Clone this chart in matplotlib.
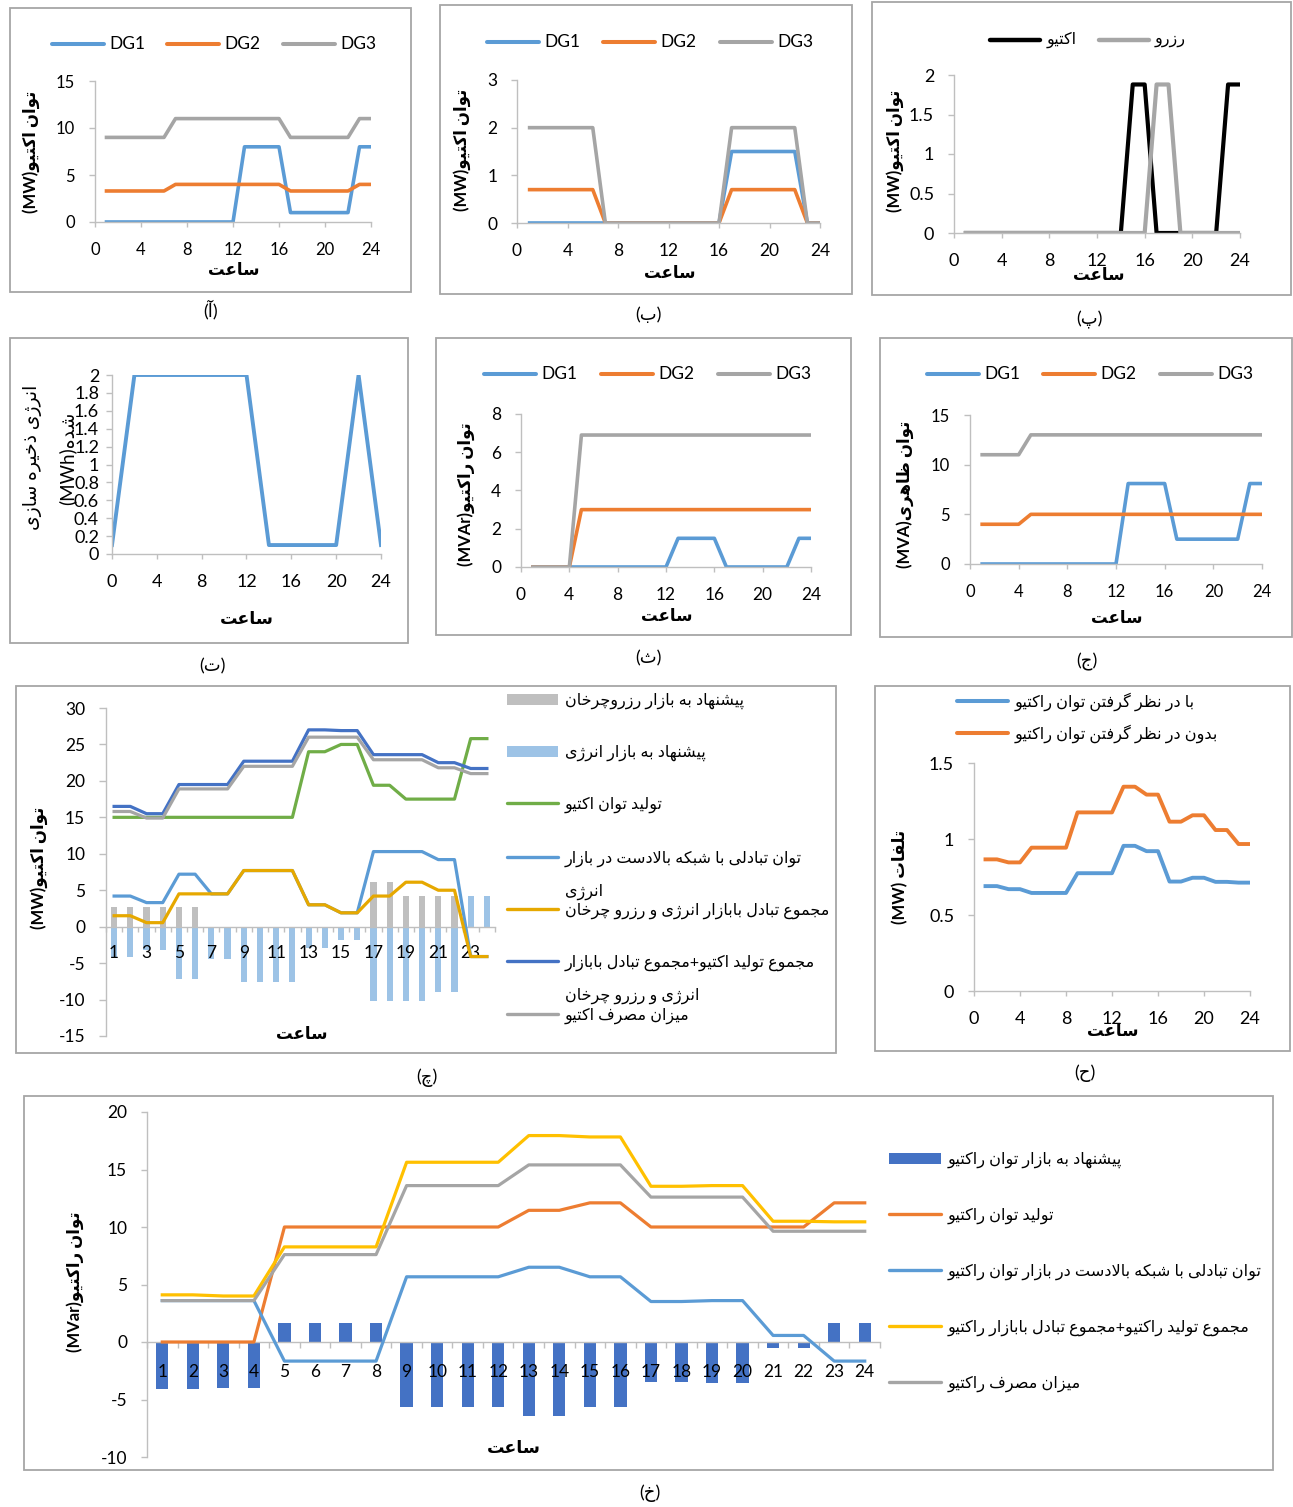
import re
import matplotlib
matplotlib.use("Agg")
import matplotlib.pyplot as plt
from matplotlib.lines import Line2D
from matplotlib.patches import Rectangle

plt.rcParams['font.family'] = ['Lato', 'DejaVu Sans']
plt.rcParams['axes.unicode_minus'] = False

W, H = 1293, 1507

# ---------------- data ----------------
hours = list(range(1, 25))
dg_names = ['DG1', 'DG2', 'DG3']

# (a) active power of DGs, MW
a_dg1 = [0, 0, 0, 0, 0, 0, 0, 0, 0, 0, 0, 0, 8, 8, 8, 8, 1, 1, 1, 1, 1, 1, 8, 8]
a_dg2 = [3.3, 3.3, 3.3, 3.3, 3.3, 3.3, 4, 4, 4, 4, 4, 4, 4, 4, 4, 4, 3.3, 3.3, 3.3, 3.3, 3.3, 3.3, 4, 4]
a_dg3 = [9, 9, 9, 9, 9, 9, 11, 11, 11, 11, 11, 11, 11, 11, 11, 11, 9, 9, 9, 9, 9, 9, 11, 11]

# (b) reserve of DGs, MW
b_dg1 = [0, 0, 0, 0, 0, 0, 0, 0, 0, 0, 0, 0, 0, 0, 0, 0, 1.5, 1.5, 1.5, 1.5, 1.5, 1.5, 0, 0]
b_dg2 = [0.7, 0.7, 0.7, 0.7, 0.7, 0.7, 0, 0, 0, 0, 0, 0, 0, 0, 0, 0, 0.7, 0.7, 0.7, 0.7, 0.7, 0.7, 0, 0]
b_dg3 = [2, 2, 2, 2, 2, 2, 0, 0, 0, 0, 0, 0, 0, 0, 0, 0, 2, 2, 2, 2, 2, 2, 0, 0]

# (p) storage active / reserve, MW
p_names = ['اکتیو', 'رزرو']
p_active = [0, 0, 0, 0, 0, 0, 0, 0, 0, 0, 0, 0, 0, 0, 1.88, 1.88, 0, 0, 0, 0, 0, 0, 1.88, 1.88]
p_reserve = [0, 0, 0, 0, 0, 0, 0, 0, 0, 0, 0, 0, 0, 0, 0, 0, 1.88, 1.88, 0, 0, 0, 0, 0, 0]

# (t) stored energy, MWh
t_hours = [0, 2, 4, 6, 8, 10, 12, 14, 16, 18, 20, 22, 24]
t_energy = [0.1, 2, 2, 2, 2, 2, 2, 0.1, 0.1, 0.1, 0.1, 2, 0.1]

# (s) reactive power of DGs, MVAr
s_dg1 = [0, 0, 0, 0, 0, 0, 0, 0, 0, 0, 0, 0, 1.5, 1.5, 1.5, 1.5, 0, 0, 0, 0, 0, 0, 1.5, 1.5]
s_dg2 = [0, 0, 0, 0, 3, 3, 3, 3, 3, 3, 3, 3, 3, 3, 3, 3, 3, 3, 3, 3, 3, 3, 3, 3]
s_dg3 = [0, 0, 0, 0, 6.9, 6.9, 6.9, 6.9, 6.9, 6.9, 6.9, 6.9, 6.9, 6.9, 6.9, 6.9, 6.9, 6.9, 6.9, 6.9, 6.9, 6.9, 6.9, 6.9]

# (j) apparent power of DGs, MVA
j_dg1 = [0, 0, 0, 0, 0, 0, 0, 0, 0, 0, 0, 0, 8.1, 8.1, 8.1, 8.1, 2.5, 2.5, 2.5, 2.5, 2.5, 2.5, 8.1, 8.1]
j_dg2 = [4, 4, 4, 4, 5, 5, 5, 5, 5, 5, 5, 5, 5, 5, 5, 5, 5, 5, 5, 5, 5, 5, 5, 5]
j_dg3 = [11, 11, 11, 11, 13, 13, 13, 13, 13, 13, 13, 13, 13, 13, 13, 13, 13, 13, 13, 13, 13, 13, 13, 13]

# (ch) active power balance, MW
ch_names = ['پیشنهاد به بازار رزروچرخان', 'پیشنهاد به بازار انرژی', 'تولید توان اکتیو',
            'توان تبادلی با شبکه بالادست در بازار\nانرژی',
            'مجموع تبادل بابازار انرژی و رزرو چرخان',
            'مجموع تولید اکتیو+مجموع تبادل بابازار\nانرژی و رزرو چرخان',
            'میزان مصرف اکتیو']
ch_reserve = [2.7, 2.7, 2.7, 2.7, 2.7, 2.7, 0, 0, 0, 0, 0, 0, 0, 0, 0, 0, 6.1, 6.1, 4.2, 4.2, 4.2, 4.2, 0, 0]
ch_energy = [-4.2, -4.2, -3.2, -3.2, -7.2, -7.2, -4.5, -4.5, -7.6, -7.6, -7.6, -7.6,
             -2.9, -2.9, -1.85, -1.85, -10.25, -10.25, -10.25, -10.25, -9, -9, 4.2, 4.2]
ch_gen = [15, 15, 15, 15, 15, 15, 15, 15, 15, 15, 15, 15, 24, 24, 25, 25, 19.4, 19.4, 17.5, 17.5, 17.5, 17.5, 25.8, 25.8]
ch_exch = [4.2, 4.2, 3.3, 3.3, 7.2, 7.2, 4.5, 4.5, 7.7, 7.7, 7.7, 7.7, 3, 3, 1.9, 1.9,
           10.3, 10.3, 10.3, 10.3, 9.2, 9.2, -4.1, -4.1]
ch_market = [1.5, 1.5, 0.55, 0.55, 4.5, 4.5, 4.5, 4.5, 7.7, 7.7, 7.7, 7.7, 3, 3, 1.9, 1.9,
             4.2, 4.2, 6.1, 6.1, 5, 5, -4.1, -4.1]
ch_total = [16.5, 16.5, 15.5, 15.5, 19.5, 19.5, 19.5, 19.5, 22.7, 22.7, 22.7, 22.7,
            27, 27, 26.9, 26.9, 23.6, 23.6, 23.6, 23.6, 22.5, 22.5, 21.7, 21.7]
ch_load = [15.8, 15.8, 14.9, 14.9, 18.9, 18.9, 18.9, 18.9, 22, 22, 22, 22,
           26, 26, 26, 26, 22.9, 22.9, 22.9, 22.9, 21.8, 21.8, 21, 21]

# (h) losses, MW
h_names = ['با در نظر گرفتن توان راکتیو', 'بدون در نظر گرفتن توان راکتیو']
h_with = [0.69, 0.69, 0.67, 0.67, 0.645, 0.645, 0.645, 0.645, 0.775, 0.775, 0.775, 0.775,
          0.955, 0.955, 0.92, 0.92, 0.72, 0.72, 0.745, 0.745, 0.718, 0.718, 0.713, 0.713]
h_without = [0.866, 0.866, 0.846, 0.846, 0.943, 0.943, 0.943, 0.943, 1.175, 1.175, 1.175, 1.175,
             1.344, 1.344, 1.292, 1.292, 1.114, 1.114, 1.156, 1.156, 1.059, 1.059, 0.967, 0.967]

# (kh) reactive power balance, MVar
kh_names = ['پیشنهاد به بازار توان راکتیو', 'تولید توان راکتیو',
            'توان تبادلی با شبکه بالادست در بازار توان راکتیو',
            'مجموع تولید راکتیو+مجموع تبادل بابازار راکتیو', 'میزان مصرف راکتیو']
kh_offer = [-4.06, -4.06, -3.98, -3.98, 1.67, 1.67, 1.67, 1.67, -5.63, -5.63, -5.63, -5.63,
            -6.44, -6.44, -5.65, -5.65, -3.5, -3.5, -3.6, -3.6, -0.53, -0.53, 1.67, 1.67]
kh_gen = [0, 0, 0, 0, 10, 10, 10, 10, 10, 10, 10, 10, 11.45, 11.45, 12.1, 12.1, 10, 10, 10, 10, 10, 10, 12.1, 12.1]
kh_exch = [3.6, 3.6, 3.6, 3.6, -1.66, -1.66, -1.66, -1.66, 5.67, 5.67, 5.67, 5.67,
           6.5, 6.5, 5.67, 5.67, 3.52, 3.52, 3.6, 3.6, 0.57, 0.57, -1.66, -1.66]
kh_total = [4.1, 4.1, 4.0, 4.0, 8.27, 8.27, 8.27, 8.27, 15.63, 15.63, 15.63, 15.63,
            17.95, 17.95, 17.83, 17.83, 13.54, 13.54, 13.6, 13.6, 10.5, 10.5, 10.45, 10.45]
kh_load = [3.6, 3.6, 3.6, 3.6, 7.6, 7.6, 7.6, 7.6, 13.6, 13.6, 13.6, 13.6,
           15.4, 15.4, 15.4, 15.4, 12.6, 12.6, 12.6, 12.6, 9.63, 9.63, 9.63, 9.63]

captions = ['(آ)', '(ب)', '(پ)', '(ت)', '(ث)', '(ج)', '(چ)', '(ح)', '(خ)']
x_title = 'ساعت'

# ---------------- persian shaping ----------------
# matplotlib does no arabic shaping / bidi, so map letters to presentation forms
FORMS = {
    'ا': (0xFE8D, 0xFE8E), 'آ': (0xFE81, 0xFE82), 'د': (0xFEA9, 0xFEAA), 'ذ': (0xFEAB, 0xFEAC),
    'ر': (0xFEAD, 0xFEAE), 'ز': (0xFEAF, 0xFEB0), 'ژ': (0xFB8A, 0xFB8B), 'و': (0xFEED, 0xFEEE),
    'ب': (0xFE8F, 0xFE90, 0xFE91, 0xFE92), 'پ': (0xFB56, 0xFB57, 0xFB58, 0xFB59),
    'ت': (0xFE95, 0xFE96, 0xFE97, 0xFE98), 'ث': (0xFE99, 0xFE9A, 0xFE9B, 0xFE9C),
    'ج': (0xFE9D, 0xFE9E, 0xFE9F, 0xFEA0), 'چ': (0xFB7A, 0xFB7B, 0xFB7C, 0xFB7D),
    'ح': (0xFEA1, 0xFEA2, 0xFEA3, 0xFEA4), 'خ': (0xFEA5, 0xFEA6, 0xFEA7, 0xFEA8),
    'س': (0xFEB1, 0xFEB2, 0xFEB3, 0xFEB4), 'ش': (0xFEB5, 0xFEB6, 0xFEB7, 0xFEB8),
    'ص': (0xFEB9, 0xFEBA, 0xFEBB, 0xFEBC), 'ظ': (0xFEC5, 0xFEC6, 0xFEC7, 0xFEC8),
    'ع': (0xFEC9, 0xFECA, 0xFECB, 0xFECC), 'ف': (0xFED1, 0xFED2, 0xFED3, 0xFED4),
    'ک': (0xFB8E, 0xFB8F, 0xFB90, 0xFB91), 'گ': (0xFB92, 0xFB93, 0xFB94, 0xFB95),
    'ل': (0xFEDD, 0xFEDE, 0xFEDF, 0xFEE0), 'م': (0xFEE1, 0xFEE2, 0xFEE3, 0xFEE4),
    'ن': (0xFEE5, 0xFEE6, 0xFEE7, 0xFEE8), 'ه': (0xFEE9, 0xFEEA, 0xFEEB, 0xFEEC),
    'ی': (0xFBFC, 0xFBFD, 0xFBFE, 0xFBFF),
}
MIRROR = {'(': ')', ')': '('}


def shape(s):
    out = []
    i = 0
    while i < len(s):
        c = s[i]
        if c not in FORMS:
            out.append(c)
            i += 1
            continue
        prev = s[i - 1] if i > 0 else ''
        nxt = s[i + 1] if i + 1 < len(s) else ''
        jp = prev in FORMS and len(FORMS[prev]) == 4
        if c == 'ل' and nxt == 'ا':
            out.append(chr(0xFEFC if jp else 0xFEFB))
            i += 2
            continue
        f = FORMS[c]
        jn = len(f) == 4 and nxt in FORMS
        if jp and jn:
            out.append(chr(f[3]))
        elif jp:
            out.append(chr(f[1]))
        elif jn:
            out.append(chr(f[2]))
        else:
            out.append(chr(f[0]))
        i += 1
    return ''.join(out)


def fa(s):
    lines = []
    for line in s.split('\n'):
        toks = re.findall(r'[A-Za-z0-9.]+|.', shape(line))
        lines.append(''.join(MIRROR.get(t, t) for t in reversed(toks)))
    return '\n'.join(lines)


# ---------------- helpers (pixel positions, y from top) ----------------
BLUE, ORANGE, GREY = '#5B9BD5', '#ED7D31', '#A5A5A5'
AXC, FRAME = '#BFBFBF', '#A6A6A6'
YL = 12      # axis title size
LEG = 11.6   # persian legend size

fig = plt.figure(figsize=(W / 100, H / 100), dpi=100)


def px_axes(x0, x1, y0, y1):
    return fig.add_axes([x0 / W, 1 - y1 / H, (x1 - x0) / W, (y1 - y0) / H])


def frame(x0, y0, x1, y1):
    fig.add_artist(Rectangle((x0 / W, 1 - y1 / H), (x1 - x0) / W, (y1 - y0) / H,
                             transform=fig.transFigure, fill=False, ec=FRAME, lw=1.3))


def ftext(x, y, s, **kw):
    kw.setdefault('ha', 'center')
    kw.setdefault('va', 'center')
    fig.text(x / W, 1 - y / H, s, **kw)


def key_line(x0, x1, y, color, lw=2.8):
    fig.add_artist(Line2D([x0 / W, x1 / W], [1 - y / H, 1 - y / H], color=color, lw=lw,
                          solid_capstyle='round', transform=fig.transFigure))


def key_box(x0, x1, y, color, h=11):
    fig.add_artist(Rectangle((x0 / W, 1 - (y + h / 2) / H), (x1 - x0) / W, h / H,
                             transform=fig.transFigure, fc=color, ec='none'))


def style(ax, fs, ypad=10, xpad=11):
    for s in ('top', 'right'):
        ax.spines[s].set_visible(False)
    for s in ('left', 'bottom'):
        ax.spines[s].set_color(AXC)
        ax.spines[s].set_linewidth(1.0)
    ax.tick_params(axis='y', length=4.3, width=1, color=AXC, labelsize=fs, pad=ypad)
    ax.tick_params(axis='x', length=3.6, width=1, color=AXC, labelsize=fs, pad=xpad)
    ax.patch.set_alpha(0)


def dg_legend(y, starts, colors, names, fs=12.5):
    for x0, c, n in zip(starts, colors, names):
        key_line(x0, x0 + 52, y, c, lw=2.9)
        ftext(x0 + 57, y, n, ha='left', fontsize=fs)


LW = 2.6
dg_colors = [BLUE, ORANGE, GREY]

# ---------------- (a) ----------------
frame(10, 8, 411, 292)
ax = px_axes(95, 371, 81, 222)
for v, c in zip([a_dg1, a_dg2, a_dg3], dg_colors):
    ax.plot(hours, v, color=c, lw=LW, solid_joinstyle='round')
ax.set_xlim(0, 24)
ax.set_ylim(0, 15)
ax.set_xticks(range(0, 25, 4))
ax.set_yticks([0, 5, 10, 15])
style(ax, 12)
dg_legend(44, [52, 167, 283], dg_colors, dg_names)
ftext(31, 152, fa('توان اکتیو(MW)'), rotation=90, fontsize=YL, fontweight='bold')
ftext(234, 270, fa(x_title), fontsize=12, fontweight='bold')
ftext(211, 310, fa(captions[0]), fontsize=13)

# ---------------- (b) ----------------
frame(440, 5, 852, 294)
ax = px_axes(517, 820, 80, 223)
for v, c in zip([b_dg1, b_dg2, b_dg3], dg_colors):
    ax.plot(hours, v, color=c, lw=LW, solid_joinstyle='round')
ax.set_xlim(0, 24)
ax.set_ylim(0, 3)
ax.set_xticks(range(0, 25, 4))
ax.set_yticks([0, 1, 2, 3])
style(ax, 12.5)
dg_legend(42, [487, 603, 720], dg_colors, dg_names)
ftext(462, 150, fa('توان اکتیو(MW)'), rotation=90, fontsize=YL, fontweight='bold')
ftext(670, 273, fa(x_title), fontsize=12, fontweight='bold')
ftext(648, 315, fa(captions[1]), fontsize=13)

# ---------------- (p) ----------------
frame(872, 2, 1291, 295)
ax = px_axes(954, 1240, 75, 233)
ax.plot(hours, p_active, color='black', lw=3.0, solid_joinstyle='round')
ax.plot(hours, p_reserve, color='#A6A6A6', lw=3.0, solid_joinstyle='round')
ax.set_xlim(0, 24)
ax.set_ylim(0, 2)
ax.set_xticks(range(0, 25, 4))
ax.set_yticks([0, 0.5, 1, 1.5, 2], ['0', '0.5', '1', '1.5', '2'])
style(ax, 13)
key_line(990, 1040, 40, 'black', lw=3.2)
ftext(1047, 40, fa(p_names[0]), ha='left', fontsize=11.5)
key_line(1099, 1149, 40, '#A6A6A6', lw=3.2)
ftext(1155, 40, fa(p_names[1]), ha='left', fontsize=11.5)
ftext(895, 151, fa('توان اکتیو(MW)'), rotation=90, fontsize=YL, fontweight='bold')
ftext(1099, 275, fa(x_title), fontsize=12, fontweight='bold')
ftext(1089, 320, fa(captions[2]), fontsize=13)

# ---------------- (t) ----------------
frame(10, 338, 408, 643)
ax = px_axes(112, 381, 375, 554)
ax.plot(t_hours, t_energy, color=BLUE, lw=2.8, solid_joinstyle='round')
ax.set_xlim(0, 24)
ax.set_ylim(0, 2)
ax.set_xticks(range(0, 25, 4))
tt = [0, 0.2, 0.4, 0.6, 0.8, 1, 1.2, 1.4, 1.6, 1.8, 2]
ax.set_yticks(tt, ['0', '0.2', '0.4', '0.6', '0.8', '1', '1.2', '1.4', '1.6', '1.8', '2'])
style(ax, 13, ypad=5)
ftext(33, 457, fa('انرژی ذخیره سازی'), rotation=90, fontsize=13.5)
ftext(67, 458, fa('شده(MWh)'), rotation=90, fontsize=13.5)
ftext(247, 619, fa(x_title), fontsize=12.5, fontweight='bold')
ftext(212, 666, fa(captions[3]), fontsize=13)

# ---------------- (s) ----------------
frame(436, 338, 851, 635)
ax = px_axes(521, 811, 414, 567)
for v, c in zip([s_dg1, s_dg2, s_dg3], dg_colors):
    ax.plot(hours, v, color=c, lw=LW, solid_joinstyle='round')
ax.set_xlim(0, 24)
ax.set_ylim(0, 8)
ax.set_xticks(range(0, 25, 4))
ax.set_yticks([0, 2, 4, 6, 8])
style(ax, 12.5)
dg_legend(374, [484, 601, 718], dg_colors, dg_names)
ftext(466, 494, fa('توان راکتیو(MVAr)'), rotation=90, fontsize=YL, fontweight='bold')
ftext(667, 616, fa(x_title), fontsize=12, fontweight='bold')
ftext(648, 658, fa(captions[4]), fontsize=13)

# ---------------- (j) ----------------
frame(880, 338, 1292, 637)
ax = px_axes(970, 1262, 415, 564)
for v, c in zip([j_dg1, j_dg2, j_dg3], dg_colors):
    ax.plot(hours, v, color=c, lw=LW, solid_joinstyle='round')
ax.set_xlim(0, 24)
ax.set_ylim(0, 15)
ax.set_xticks(range(0, 25, 4))
ax.set_yticks([0, 5, 10, 15])
style(ax, 12)
dg_legend(374, [927, 1043, 1160], dg_colors, dg_names)
ftext(905, 494, fa('توان ظاهری(MVA)'), rotation=90, fontsize=YL, fontweight='bold')
ftext(1117, 618, fa(x_title), fontsize=12, fontweight='bold')
ftext(1087, 662, fa(captions[5]), fontsize=13)

# ---------------- (ch) ----------------
frame(16, 686, 836, 1053)
ax = px_axes(106, 495, 708, 1036)
ch_colors = ['#BFBFBF', '#9DC3E6', '#70AD47', '#5B9BD5', '#E6A800', '#4472C4', '#A5A5A5']
ax.bar(hours, ch_reserve, width=0.38, color=ch_colors[0], zorder=1)
ax.bar(hours, ch_energy, width=0.38, color=ch_colors[1], zorder=1)
for v, c in zip([ch_gen, ch_exch, ch_market, ch_total, ch_load], ch_colors[2:]):
    ax.plot(hours, v, color=c, lw=2.3, solid_joinstyle='round', zorder=3)
ax.set_xlim(0.5, 24.5)
ax.set_ylim(-15, 30)
ax.set_yticks(range(-15, 31, 5))
style(ax, 12.5)
ax.spines['bottom'].set_position(('data', 0))
ax.set_xticks(range(1, 25, 2))
ax.set_xticks([i + 0.5 for i in range(0, 25)], minor=True)
ax.tick_params(axis='x', which='major', length=0, pad=13.5, labelsize=12.5)
ax.tick_params(axis='x', which='minor', length=3.6, width=1, color=AXC)
ax.tick_params(axis='y', length=5)
ly = [699, 751, 803, 857, 909, 961, 1014]
for i, (n, c, y) in enumerate(zip(ch_names, ch_colors, ly)):
    if i < 2:
        key_box(507, 558, y, c)
    else:
        key_line(507, 558, y, c, lw=2.4)
    for k, line in enumerate(n.split('\n')):
        ftext(565, y + 2 + 33 * k, fa(line), ha='left', fontsize=11.5)
ftext(39, 868, fa('توان اکتیو(MW)'), rotation=90, fontsize=YL, fontweight='bold')
ftext(302, 1034, fa(x_title), fontsize=12, fontweight='bold')
ftext(427, 1078, fa(captions[6]), fontsize=13)

# ---------------- (h) ----------------
frame(875, 686, 1290, 1051)
ax = px_axes(974, 1250, 763, 991)
ax.plot(hours, h_with, color=BLUE, lw=2.8, solid_joinstyle='round')
ax.plot(hours, h_without, color=ORANGE, lw=2.8, solid_joinstyle='round')
ax.set_xlim(0, 24)
ax.set_ylim(0, 1.5)
ax.set_xticks(range(0, 25, 4))
ax.set_yticks([0, 0.5, 1, 1.5], ['0', '0.5', '1', '1.5'])
style(ax, 13)
for n, c, y in zip(h_names, [BLUE, ORANGE], [701, 733]):
    key_line(957, 1008, y, c, lw=2.9)
    ftext(1015, y + 1, fa(n), ha='left', fontsize=LEG)
ftext(900, 877, fa('تلفات (MW)'), rotation=90, fontsize=YL, fontweight='bold')
ftext(1113, 1031, fa(x_title), fontsize=12, fontweight='bold')
ftext(1085, 1073, fa(captions[7]), fontsize=13)

# ---------------- (kh) ----------------
frame(24, 1096, 1273, 1470)
ax = px_axes(147, 880, 1112, 1457)
kh_colors = ['#4472C4', ORANGE, BLUE, '#FFC000', GREY]
ax.bar(hours, kh_offer, width=0.4, color=kh_colors[0], zorder=1)
for v, c in zip([kh_gen, kh_exch, kh_total, kh_load], kh_colors[1:]):
    ax.plot(hours, v, color=c, lw=2.3, solid_joinstyle='round', zorder=3)
ax.set_xlim(0.5, 24.5)
ax.set_ylim(-10, 20)
ax.set_yticks(range(-10, 21, 5))
style(ax, 12.5)
ax.spines['bottom'].set_position(('data', 0))
ax.set_xticks(hours)
ax.set_xticks([i + 0.5 for i in range(0, 25)], minor=True)
ax.tick_params(axis='x', which='major', length=0, pad=15.5, labelsize=12.5)
ax.tick_params(axis='x', which='minor', length=4.3, width=1, color=AXC)
for i, (n, c, y) in enumerate(zip(kh_names, kh_colors, [1158, 1214, 1270, 1326, 1382])):
    if i == 0:
        key_box(889, 941, y, c)
    else:
        key_line(889, 941, y, c, lw=2.4)
    ftext(948, y + 2, fa(n), ha='left', fontsize=LEG)
ftext(75, 1282, fa('توان راکتیو(MVar)'), rotation=90, fontsize=YL, fontweight='bold')
ftext(514, 1448, fa(x_title), fontsize=12.5, fontweight='bold')
ftext(650, 1493, fa(captions[8]), fontsize=13)

fig.savefig('out.png', dpi=100)
